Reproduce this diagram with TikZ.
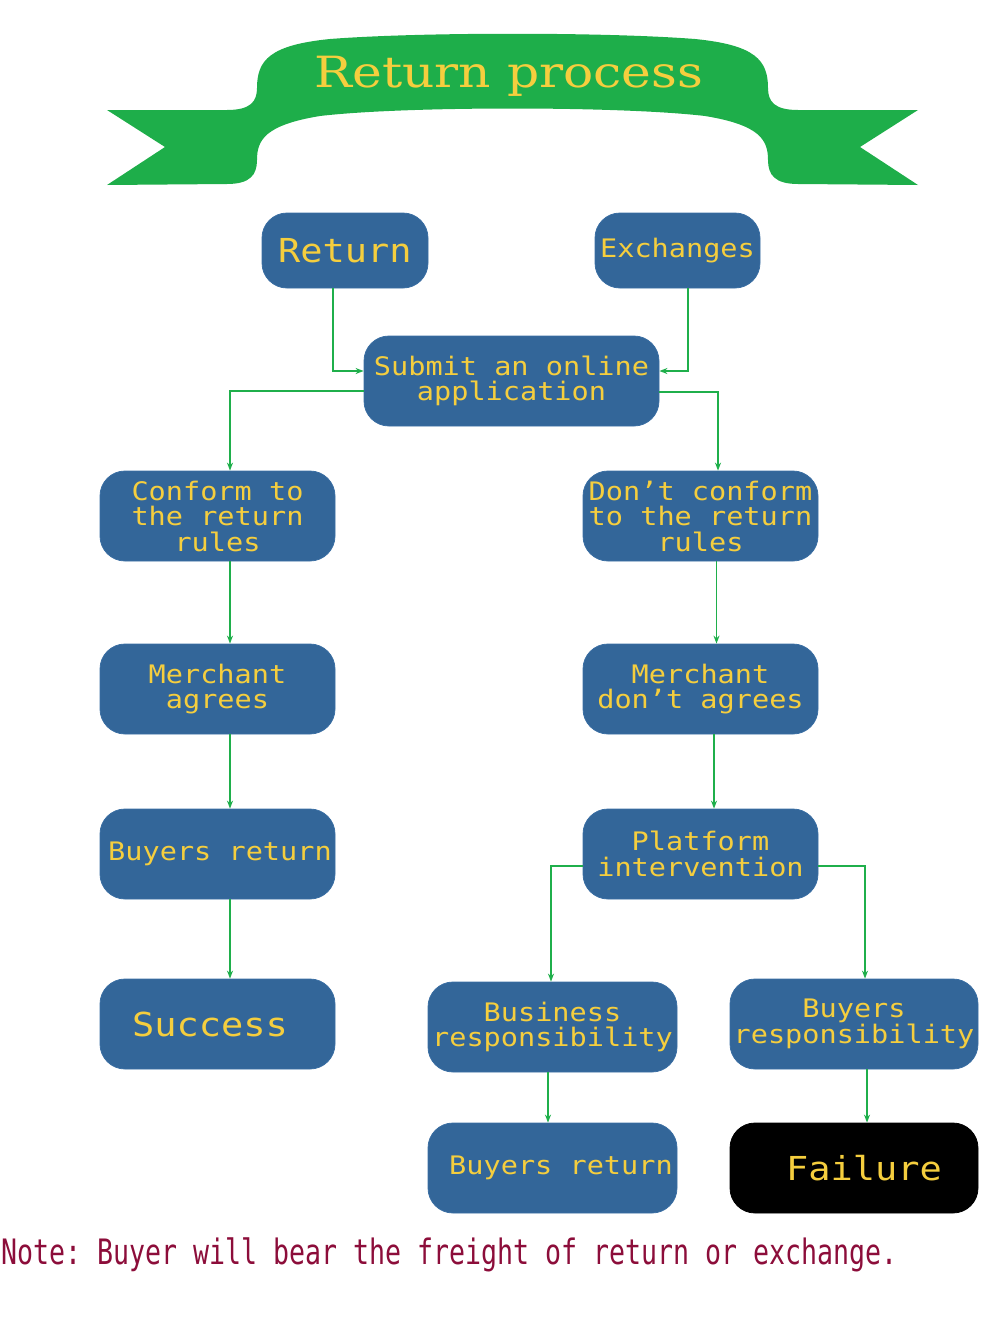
\documentclass[tikz,border=0pt]{standalone}
\usepackage{fontspec}
\setmonofont{DejaVu Sans Mono}
\newfontfamily\bxfam[FakeStretch=1.12]{DejaVu Sans Mono}
\newfontfamily\titlefont{DejaVu Serif}
\usetikzlibrary{arrows.meta}
\definecolor{boxblue}{HTML}{336699}
\definecolor{boxedge}{HTML}{3A6EA3}
\definecolor{ytext}{HTML}{F5CE3E}
\definecolor{lgreen}{HTML}{1FAF4B}
\definecolor{bannergreen}{HTML}{1EAE4A}
\definecolor{notered}{HTML}{8C0D3A}
\newcommand\bxfont{\fontsize{25.5}{25.5}\selectfont\bxfam}
\newcommand\bigbxfont{\fontsize{33}{33}\selectfont\bxfam}
\begin{document}
\begin{tikzpicture}[x=1pt,y=-1pt,
  box/.style={rectangle, rounded corners=25pt, fill=boxblue, draw=boxedge, line width=0.8pt,
    text=ytext, font=\bxfont, align=center, inner sep=0pt,
    minimum width=235pt, minimum height=90pt},
  conn/.style={draw=lgreen, line width=1.4pt, -{Stealth[length=8pt,width=6pt]}}]
\useasboundingbox (0,0) rectangle (1000,1333);

% banner
\fill[bannergreen] (107,110) -- (227,110)
  .. controls (250,110) and (257,102) .. (257,88)
  .. controls (257,60) and (270,45) .. (330,39)
  .. controls (420,32) and (605,32) .. (695,39)
  .. controls (755,45) and (768,60) .. (768,88)
  .. controls (768,102) and (775,110) .. (798,110)
  -- (918,110) -- (860,147) -- (918,185) -- (798,184)
  .. controls (775,184) and (768,175) .. (768,160)
  .. controls (768,140) and (760,125) .. (705,116)
  .. controls (620,106) and (405,106) .. (320,116)
  .. controls (265,125) and (257,140) .. (257,160)
  .. controls (257,175) and (250,184) .. (227,184)
  -- (107,185) -- (165,147) -- cycle;
\node[anchor=base, text=ytext, inner sep=0pt] (title) at (509,87)
  {\scalebox{1.17}[1]{\titlefont\fontsize{43}{43}\selectfont Return process}};

% boxes
\node[box, font=\bigbxfont, minimum width=166pt, minimum height=75pt] (ret) at (345,250.5) {Return};
\node[box, minimum width=165pt, minimum height=75pt] (exc) at (677.5,250.5) {Exchanges};
\node[box, minimum width=295pt] (sub) at (511.5,381) {Submit an online\\application};
\node[box] (conf) at (217.5,516) {Conform to\\the return\\rules};
\node[box] (dont) at (700.5,516) {Don’t conform\\to the return\\rules};
\node[box] (ma) at (217.5,689) {Merchant\\agrees};
\node[box] (mda) at (700.5,689) {Merchant\\don’t agrees};
\node[box] (br1) at (217.5,854) {\hspace*{5pt}Buyers return};
\node[box] (plat) at (700.5,854) {Platform\\intervention};
\node[box, font=\bigbxfont] (succ) at (217.5,1024) {Success\hspace*{15pt}};
\node[box, minimum width=249pt] (bus) at (552.5,1027) {Business\\responsibility};
\node[box, minimum width=248pt] (bres) at (854,1024) {Buyers\\responsibility};
\node[box, minimum width=249pt] (br2) at (552.5,1168) {\hspace*{17pt}Buyers return};
\node[box, minimum width=248pt, fill=black, draw=black, font=\bigbxfont] (fail) at (854,1168) {\hspace*{20pt}Failure};

% connectors
\draw[conn] ([xshift=-12pt]ret.south) |- ([yshift=10pt]sub.west);
\draw[conn] ([xshift=10.5pt]exc.south) |- ([yshift=10pt]sub.east);
\draw[conn] ([yshift=-10pt]sub.west) -| ([xshift=12.5pt]conf.north);
\draw[conn] ([yshift=-11pt]sub.east) -| ([xshift=17.5pt]dont.north);
\draw[conn] ([xshift=12.5pt]conf.south) -- ([xshift=12.5pt]ma.north);
\draw[conn] ([xshift=16pt]dont.south) -- ([xshift=16pt]mda.north);
\draw[conn] ([xshift=12.5pt]ma.south) -- ([xshift=12.5pt]br1.north);
\draw[conn] ([xshift=13.5pt]mda.south) -- ([xshift=13.5pt]plat.north);
\draw[conn] ([xshift=12.5pt]br1.south) -- ([xshift=12.5pt]succ.north);
\draw[conn] ([yshift=-12pt]plat.west) -| ([xshift=-1.5pt]bus.north);
\draw[conn] ([yshift=-12pt]plat.east) -| ([xshift=11pt]bres.north);
\draw[conn] ([xshift=-4.5pt]bus.south) -- ([xshift=-4.5pt]br2.north);
\draw[conn] ([xshift=13pt]bres.south) -- ([xshift=13pt]fail.north);

% note
\node[anchor=base west, inner sep=0pt, text=notered] (note) at (1,1264)
  {\scalebox{0.76}[1]{\ttfamily\fontsize{35}{35}\selectfont Note: Buyer will bear the freight of return or exchange.}};
\end{tikzpicture}
\end{document}
